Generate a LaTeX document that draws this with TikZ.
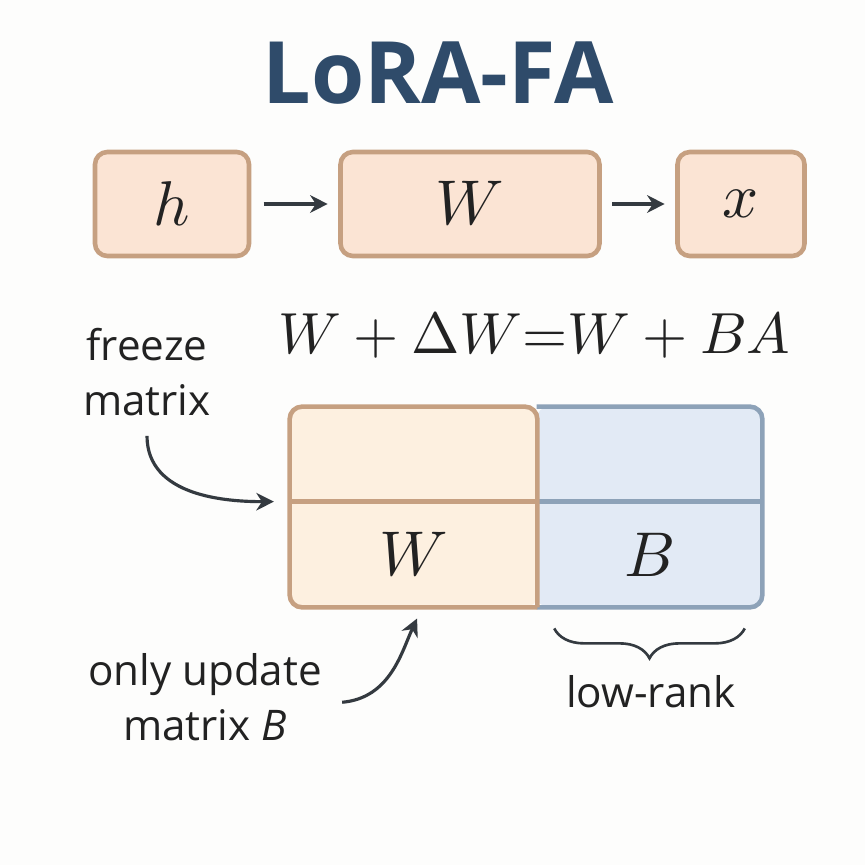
\documentclass[tikz,border=0pt]{standalone}
\usepackage{fontspec}
\usepackage{unicode-math}
\setmainfont{Open Sans}
\setmathfont{Latin Modern Math}
\usetikzlibrary{arrows.meta,decorations.pathreplacing,backgrounds}
\definecolor{bgc}{HTML}{FDFDFC}
\definecolor{titlec}{HTML}{2F4B6A}
\definecolor{peach}{HTML}{FBE4D4}
\definecolor{tanB}{HTML}{C6A081}
\definecolor{cream}{HTML}{FDF0E0}
\definecolor{bluef}{HTML}{E2EAF5}
\definecolor{blueB}{HTML}{8DA2B8}
\definecolor{arrowc}{HTML}{343A40}
\definecolor{textc}{HTML}{222222}
\begin{document}
\begin{tikzpicture}[x=0.02cm,y=-0.02cm,
  flowbox/.style={draw=tanB, fill=peach, line width=2.6pt, rounded corners=7pt,
    minimum height=2.08cm, inner sep=0pt, text=textc, font=\fontsize{36}{40}\selectfont},
  arr/.style={draw=arrowc, line width=1.8pt, -{Stealth[length=10pt,width=10pt]}},
  lbl/.style={font=\fontsize{24}{31}\selectfont, text=textc, align=center},
  cell/.style={inner sep=0pt, text=textc, font=\fontsize{36}{40}\selectfont},
  border/.style={line width=2.6pt, rounded corners=7pt}]
\useasboundingbox (0,0) rectangle (865,865);
% title
\node[font=\fontsize{49}{56}\selectfont\bfseries, text=titlec] (title) at (438,73) {LoRA-FA};
% top flow
\node[flowbox, minimum width=3.08cm] (h) at (172,204) {$h$};
\node[flowbox, minimum width=5.18cm] (Wb) at (470,204) {$W$};
\node[flowbox, minimum width=2.54cm] (x) at (741,204) {$x$};
\draw[arr, shorten <=7pt, shorten >=6pt] (h) -- (Wb);
\draw[arr, shorten <=6pt, shorten >=6pt] (Wb) -- (x);
% equation
\node[text=textc, font=\fontsize{33}{40}\selectfont] (eq) at (534,335)
  {$W\mskip4mu{+}\mskip4mu\Delta W{=}W\mskip4mu{+}\mskip4mu BA$};
% matrix cells
\node[cell, minimum width=4.94cm, minimum height=1.9cm] (Wtop) at (413.5,454.5) {};
\node[cell, minimum width=4.94cm, minimum height=2.1cm] (Wcell) at (413.5,554.5) {$W$};
\node[cell, minimum width=4.5cm, minimum height=1.9cm] (Btop) at (649.5,454.5) {};
\node[cell, minimum width=4.5cm, minimum height=2.1cm] (Bcell) at (649.5,554.5) {$B$};
\begin{scope}[on background layer]
\fill[bgc] (0,0) rectangle (865,865);
\fill[bluef, border] (Btop.north west) -- (Btop.north east) -- (Bcell.south east) -- (Bcell.south west) -- cycle;
\draw[blueB, border] (Bcell.south west) -- (Bcell.south east) -- (Btop.north east) -- (Btop.north west);
\draw[blueB, line width=2.6pt] (Bcell.north west) -- (Bcell.north east);
\fill[cream, border] (Wcell.south east) -- (Wcell.south west) -- (Wtop.north west) -- (Wtop.north east) -- cycle;
\draw[tanB, border] (Wcell.south east) -- (Wcell.south west) -- (Wtop.north west) -- (Wtop.north east) -- (Wcell.south east);
\draw[tanB, line width=2.6pt] (Wcell.north west) -- (Wcell.north east);
\end{scope}
% labels
\node[lbl] (freeze) at (147,372) {freeze\\matrix};
\node[lbl] (update) at (205,697) {only update\\matrix \textit{B}};
\node[lbl] (lowrank) at (651,692) {low-rank};
% annotation arrows
\draw[arr, shorten >=9pt] ([yshift=-8pt]freeze.south) to[out=-90,in=180] (Wcell.north west);
\draw[arr, shorten >=7pt] ([xshift=8pt,yshift=-3pt]update.east) to[out=5,in=-115] ([xshift=5pt]Wcell.south);
% brace
\draw[arrowc, line width=1.5pt, decorate, decoration={brace, amplitude=17pt}]
  ([xshift=-10pt,yshift=-12pt]Bcell.south east) -- ([xshift=10pt,yshift=-12pt]Bcell.south west);
\end{tikzpicture}
\end{document}
